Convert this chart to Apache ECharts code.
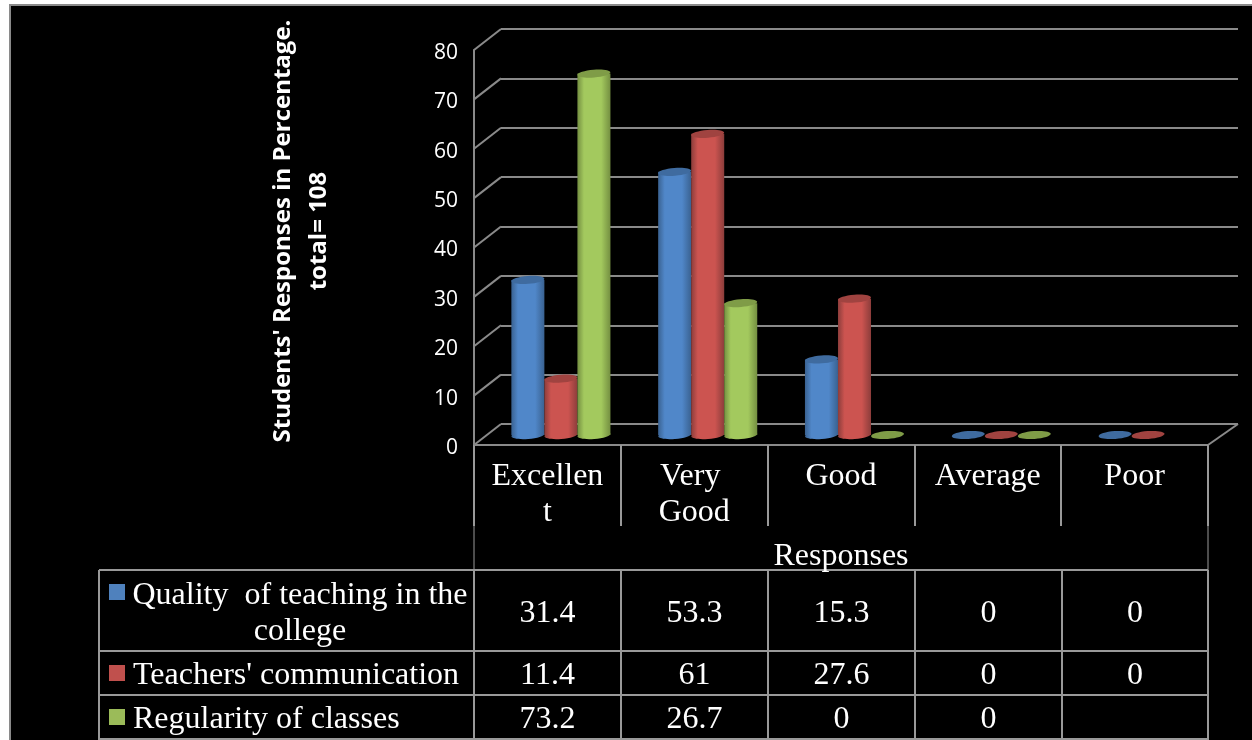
<!DOCTYPE html>
<html>
<head>
<meta charset="utf-8">
<style>
  html, body { margin: 0; padding: 0; background: #fff; }
  #main { width: 1252px; height: 740px; }
</style>
</head>
<body>
<div id="main"></div>
<script src="https://cdn.jsdelivr.net/npm/echarts@6/dist/echarts.min.js"></script>
<script>
  const categories = ['Excellent', 'Very Good', 'Good', 'Average', 'Poor']
  const yTicks = [0, 10, 20, 30, 40, 50, 60, 70, 80]
  const quality = [31.4, 53.3, 15.3, 0, 0]
  const communication = [11.4, 61, 27.6, 0, 0]
  const regularity = [73.2, 26.7, 0, 0, null]

  const rowNames = ['Quality  of teaching in the\ncollege', "Teachers' communication", 'Regularity of classes']
  const rowValues = [quality, communication, regularity]
  const edgeColors = ['#3a6291', '#8c3d3b', '#748f41']
  const midColors = ['#5087c9', '#cc5450', '#a3c95e']
  const capColors = ['#3f6b9f', '#a04340', '#7f9c47']
  const keyColors = ['#4f81bd', '#c0504d', '#9bbb59']

  const gray = '#8a8a8a'
  const serif = '"Liberation Serif", serif'
  const depthX = 27
  const depthY = 21

  // table layout
  const colX = [474, 621, 768, 915, 1062, 1208]
  const rowY = [570, 651, 695, 739]
  const tableLeft = 99

  function cylinder(index) {
    return function (params, api) {
      const v = api.value(1)
      if (v === null || v === undefined || isNaN(v)) return
      const band = api.size([1, 0])[0]
      const w = band * 0.225
      const base = api.coord([api.value(0), 0])
      const top = api.coord([api.value(0), v])
      const cx = base[0] + (index - 1) * w
      const fill = new echarts.graphic.LinearGradient(0, 0, 1, 0, [
        { offset: 0, color: edgeColors[index] },
        { offset: 0.2, color: midColors[index] },
        { offset: 0.72, color: midColors[index] },
        { offset: 1, color: edgeColors[index] }
      ])
      const children = []
      if (v > 0) {
        children.push({
          type: 'ellipse',
          shape: { cx: cx, cy: base[1], rx: w / 2, ry: 4 },
          rotation: 0.08,
          originX: cx,
          originY: base[1],
          style: { fill: fill }
        })
        children.push({
          type: 'rect',
          shape: { x: cx - w / 2, y: top[1], width: w, height: base[1] - top[1] },
          style: { fill: fill }
        })
      }
      children.push({
        type: 'ellipse',
        shape: { cx: cx, cy: top[1], rx: w / 2, ry: 3.9 },
        rotation: 0.08,
        originX: cx,
        originY: top[1],
        style: { fill: capColors[index] }
      })
      return { type: 'group', children: children }
    }
  }

  function sideWall(params, api) {
    const box = params.coordSys
    const y = api.coord([0, api.value(0)])[1]
    const lineStyle = { stroke: gray, lineWidth: 2 }
    const children = [{
      type: 'line',
      shape: { x1: box.x, y1: y, x2: box.x + depthX, y2: y - depthY },
      style: lineStyle
    }]
    if (api.value(0) === 0) {
      children.push({
        type: 'line',
        shape: { x1: box.x + box.width, y1: y, x2: box.x + box.width + depthX + 3, y2: y - depthY },
        style: lineStyle
      })
    }
    return { type: 'group', children: children }
  }

  function line(x1, y1, x2, y2, width) {
    return {
      type: 'line',
      shape: { x1: x1, y1: y1, x2: x2, y2: y2 },
      style: { stroke: '#999', lineWidth: width || 2 }
    }
  }

  function tableText(text, x, y, align) {
    return {
      type: 'text',
      x: x,
      y: y,
      style: {
        text: text,
        fill: '#fff',
        font: '32px ' + serif,
        lineHeight: 36,
        align: align || 'center',
        verticalAlign: 'middle'
      }
    }
  }

  function tableGraphics() {
    // black panel runs off the right and bottom of the page
    const out = [{
      type: 'rect',
      z: -10,
      shape: { x: 10, y: 5, width: 1260, height: 760 },
      style: { fill: '#000', stroke: gray, lineWidth: 2 }
    }]
    out.push(line(474, 526, 474, 570, 1))
    out.push(line(1208, 526, 1208, 570, 1))
    rowY.forEach(y => out.push(line(tableLeft, y, 1208, y)))
    out.push(line(tableLeft, rowY[0], tableLeft, 740))
    colX.forEach(x => out.push(line(x, rowY[0], x, 740)))

    const rowCenter = [613.5, 676, 720]
    const keyCenter = [592, 673, 717]
    rowNames.forEach((name, r) => {
      out.push({
        type: 'rect',
        shape: { x: 109, y: keyCenter[r] - 8, width: 16, height: 16 },
        style: { fill: keyColors[r] }
      })
      if (r === 0) out.push(tableText(name, 300, rowCenter[r]))
      else out.push(tableText(name, 133, rowCenter[r], 'left'))
      rowValues[r].forEach((v, c) => {
        if (v !== null) out.push(tableText(String(v), (colX[c] + colX[c + 1]) / 2, rowCenter[r]))
      })
    })
    return out
  }

  const chart = echarts.init(document.getElementById('main'))

  const option = {
    animation: false,
    backgroundColor: '#fff',
    graphic: tableGraphics(),
    grid: [
      { left: 474, top: 50, width: 734, height: 395 },
      { left: 501, top: 29, width: 737, height: 395 },
      { left: 487.5, top: 40, width: 734, height: 395 }
    ],
    xAxis: [
      {
        type: 'category',
        gridIndex: 0,
        data: categories,
        axisLine: { lineStyle: { color: gray, width: 2 } },
        axisTick: { show: true, length: 81, lineStyle: { color: '#999', width: 2 } },
        axisLabel: {
          color: '#fff',
          fontFamily: serif,
          fontSize: 32,
          lineHeight: 36,
          margin: 14,
          interval: 0,
          width: 118,
          overflow: 'break'
        },
        name: 'Responses',
        nameLocation: 'middle',
        nameGap: 112,
        nameTextStyle: { color: '#fff', fontFamily: serif, fontSize: 32, verticalAlign: 'middle' }
      },
      { type: 'category', gridIndex: 1, show: false, data: categories },
      { type: 'category', gridIndex: 2, show: false, data: categories }
    ],
    yAxis: [
      {
        type: 'value',
        gridIndex: 0,
        min: 0,
        max: 80,
        interval: 10,
        axisLine: { show: true, lineStyle: { color: gray, width: 2 } },
        axisTick: { show: false },
        splitLine: { show: false },
        axisLabel: {
          margin: 16,
          formatter: '{tick|{value}}',
          rich: {
            tick: {
              color: '#fff',
              fontFamily: '"Open Sans", sans-serif',
              fontSize: 21,
              padding: [6, 0, 0, 0]
            }
          }
        },
        name: "Students' Responses in Percentage.\ntotal= 108",
        nameLocation: 'middle',
        nameRotate: 90,
        nameGap: 137,
        nameTextStyle: {
          color: '#fff',
          fontFamily: '"Open Sans", sans-serif',
          fontWeight: 'bold',
          fontSize: 24,
          lineHeight: 36,
          padding: [0, 0, 0, 33]
        }
      },
      {
        type: 'value',
        gridIndex: 1,
        min: 0,
        max: 80,
        interval: 10,
        axisLine: { show: false },
        axisTick: { show: false },
        axisLabel: { show: false },
        splitLine: { show: true, lineStyle: { color: gray, width: 2 } }
      },
      { type: 'value', gridIndex: 2, show: false, min: 0, max: 80, interval: 10, splitLine: { show: false } }
    ],
    series: [
      {
        type: 'custom',
        name: 'Side wall',
        xAxisIndex: 0,
        yAxisIndex: 0,
        silent: true,
        z: 1,
        encode: { y: 0 },
        data: yTicks.map(v => [v]),
        renderItem: sideWall
      }
    ].concat(rowValues.map((values, i) => ({
      type: 'custom',
      name: rowNames[i],
      xAxisIndex: 2,
      yAxisIndex: 2,
      z: 3 + i,
      encode: { x: 0, y: 1 },
      data: values.map((v, c) => [c, v]),
      renderItem: cylinder(i)
    })))
  }

  chart.setOption(option)
</script>
</body>
</html>
